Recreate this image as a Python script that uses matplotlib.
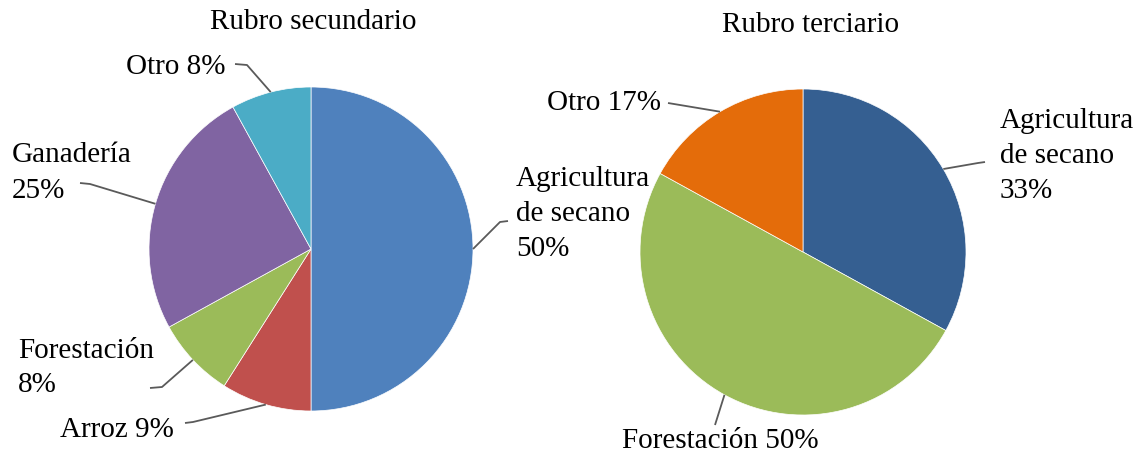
import matplotlib
matplotlib.use("Agg")
import matplotlib.pyplot as plt
import numpy as np

W, H = 1134, 453
plt.rcParams.update({"font.family": "Liberation Serif", "font.size": 21})

# Rubro secundario
sec_labels = ["Agricultura\nde secano\n50%", "Arroz 9%", "Forestación\n8%", "Ganadería\n25%", "Otro 8%"]
sec_values = [50, 9, 8, 25, 8]
sec_colors = ["#4F81BD", "#C0504D", "#9BBB59", "#8064A2", "#4BACC6"]

# Rubro terciario
ter_labels = ["Agricultura\nde secano\n33%", "Forestación 50%", "Otro 17%"]
ter_values = [33, 50, 17]
ter_colors = ["#355F91", "#9BBB59", "#E46C0A"]

# label layout in pixels (x, y, ha), leader start and optional elbow
sec_layout = [
    ((516, 214, "left"), (508, 221), (500, 222)),
    ((60, 430, "left"), (185, 423), (193, 422)),
    ((18, 368, "left"), (150, 388), (162, 387)),
    ((12, 173, "left"), (80, 183), (90, 184)),
    ((226, 67, "right"), (235, 64), (247, 65)),
]
ter_layout = [
    ((1000, 156, "left"), (985, 162), (978, 163)),
    ((622, 441, "left"), (715, 425), None),
    ((661, 103, "right"), (668, 103), None),
]


def pie_axes(cx, cy, r):
    return fig.add_axes([(cx - r) / W, (H - cy - r) / H, 2 * r / W, 2 * r / H])


fig = plt.figure(figsize=(W / 100, H / 100), dpi=100)
ax1 = pie_axes(311, 249, 162)
ax2 = pie_axes(803, 252, 163)
over = fig.add_axes([0, 0, 1, 1])
over.set_xlim(0, W)
over.set_ylim(H, 0)
over.axis("off")


def draw(ax, values, colors, labels, layout, title, title_xy):
    wedges, _ = ax.pie(values, colors=colors, startangle=90, counterclock=False,
                       radius=1, wedgeprops=dict(edgecolor="white", linewidth=0.5))
    ax.set_xlim(-1, 1)
    ax.set_ylim(-1, 1)
    ax.set_aspect("equal")
    over.text(*title_xy, title, ha="center", va="center", fontsize=21)
    for w, lab, ((tx, ty, ha), start, elbow) in zip(wedges, labels, layout):
        mid = np.deg2rad((w.theta1 + w.theta2) / 2)
        edge = over.transData.inverted().transform(
            ax.transData.transform((np.cos(mid), np.sin(mid))))
        pts = [start] + ([elbow] if elbow else []) + [tuple(edge)]
        xs, ys = zip(*pts)
        over.plot(xs, ys, color="#5a5a5a", lw=1.3, solid_capstyle="butt")
        over.text(tx, ty, lab, ha=ha, va="center", multialignment="left", linespacing=1.45)


draw(ax1, sec_values, sec_colors, sec_labels, sec_layout, "Rubro secundario", (313, 22))
draw(ax2, ter_values, ter_colors, ter_labels, ter_layout, "Rubro terciario", (811, 25))

fig.savefig("out.png", dpi=100, facecolor="white")
